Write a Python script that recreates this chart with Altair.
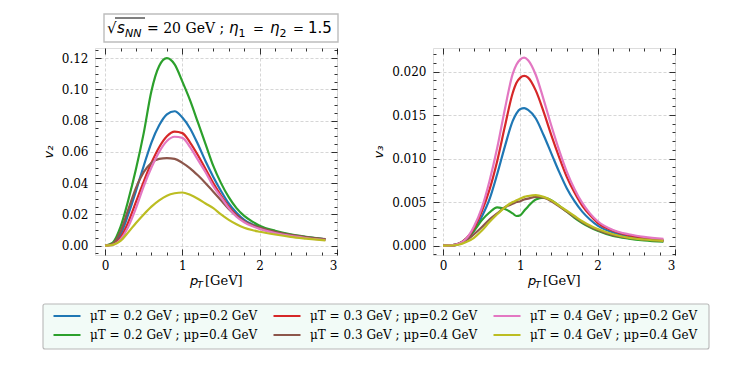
import altair as alt
import pandas as pd

# ---------------- data ----------------
PT_LEFT = [0.0, 0.1, 0.2, 0.3, 0.4, 0.5, 0.6, 0.7, 0.8, 0.9, 1.0, 1.1, 1.2, 1.3, 1.4,
           1.5, 1.6, 1.7, 1.8, 1.9, 2.0, 2.2, 2.4, 2.6, 2.85]

V2_T02_P02 = [0, .001, .007, .020, .035, .051, .066, .077, .084, .086, .082, .075, .065, .054, .044,
              .035, .027, .021, .0165, .0137, .0117, .0088, .0068, .0054, .0041]
V2_T02_P04 = [0, .002, .012, .029, .049, .072, .099, .115, .120, .116, .105, .093, .079, .065, .051,
              .040, .031, .024, .019, .0155, .0128, .0095, .0072, .0056, .0040]
V2_T03_P02 = [0, .0008, .005, .015, .028, .041, .053, .063, .070, .073, .072, .066, .058, .049, .040,
              .032, .025, .0195, .0155, .013, .0112, .0085, .0065, .0052, .0039]
V2_T03_P04 = [0, .0012, .009, .023, .037, .047, .053, .0555, .056, .0555, .053, .0495, .045, .040, .0345,
              .029, .0235, .019, .0155, .0133, .0115, .0088, .0069, .0055, .0042]
V2_T04_P02 = [0, .0005, .004, .012, .024, .038, .050, .060, .067, .0697, .069, .063, .055, .047, .038,
              .031, .024, .0185, .015, .0125, .0107, .0081, .0062, .0049, .0036]
V2_T04_P04 = [0, .0005, .003, .0085, .0145, .020, .025, .029, .032, .0335, .034, .0325, .030, .027, .024,
              .020, .0165, .0137, .0115, .010, .0089, .0071, .0056, .0045, .0033]

PT_RIGHT = [0.0, 0.1, 0.2, 0.3, 0.4, 0.5, 0.6, 0.7, 0.8, 0.9, 0.95, 1.0, 1.05, 1.1, 1.2, 1.3, 1.4,
            1.5, 1.6, 1.7, 1.8, 1.9, 2.0, 2.2, 2.4, 2.6, 2.85]

V3_T02_P02 = [0, .00002, .0002, .0007, .0017, .0033, .0053, .0082, .0114, .0143, .0152, .0157, .0158, .0156,
              .0146, .0127, .0106, .0085, .0066, .0051, .0039, .0030, .0023, .0015, .0011, .0008, .00058]
V3_T02_P04 = [0, .00002, .0002, .0008, .0017, .0029, .0038, .0044, .0042, .0037, .0034, .0035, .0040, .0045,
              .0053, .0055, .0052, .0046, .0039, .0032, .0026, .0021, .0017, .0011, .0008, .0006, .00045]
V3_T03_P02 = [0, .00002, .0002, .0008, .0020, .0039, .0064, .0097, .0137, .0175, .0187, .0193, .0195, .0193,
              .0178, .0154, .0127, .0102, .0079, .0061, .0046, .0035, .0026, .0017, .0012, .0009, .00066]
V3_T03_P04 = [0, .00002, .0002, .0006, .0013, .0021, .0030, .0037, .0044, .0048, .0050, .0051, .0053, .0054,
              .0056, .0055, .0051, .0045, .0039, .0033, .0027, .0022, .0018, .0012, .0009, .0007, .00052]
V3_T04_P02 = [0, .00002, .0002, .0008, .0022, .0043, .0074, .0112, .0157, .0197, .0208, .0214, .0216, .0213,
              .0196, .0168, .0138, .0110, .0085, .0065, .0049, .0037, .0028, .0018, .0013, .0010, .00077]
V3_T04_P04 = [0, .00001, .0001, .0004, .0009, .0017, .0027, .0036, .0044, .0050, .0052, .0054, .0056, .0057,
              .0058, .0056, .0052, .0046, .0040, .0034, .0028, .0023, .0019, .0013, .0009, .0007, .00055]

# plot order (also legend order: Vega fills legend columns first)
SERIES = ["μT = 0.2 GeV ; μp=0.2 GeV", "μT = 0.2 GeV ; μp=0.4 GeV",
          "μT = 0.3 GeV ; μp=0.2 GeV", "μT = 0.3 GeV ; μp=0.4 GeV",
          "μT = 0.4 GeV ; μp=0.2 GeV", "μT = 0.4 GeV ; μp=0.4 GeV"]
COLORS = ["#1f77b4", "#2ca02c", "#d62728", "#8c564b", "#e377c2", "#bcbd22"]

V2_ALL = [V2_T02_P02, V2_T02_P04, V2_T03_P02, V2_T03_P04, V2_T04_P02, V2_T04_P04]
V3_ALL = [V3_T02_P02, V3_T02_P04, V3_T03_P02, V3_T03_P04, V3_T04_P02, V3_T04_P04]

X_TICKS = [0, 1, 2, 3]
V2_TICKS = [0.0, 0.02, 0.04, 0.06, 0.08, 0.10, 0.12]
V3_TICKS = [0.0, 0.005, 0.010, 0.015, 0.020]


def long_df(pts, allv):
    rows = []
    for s, vals in zip(SERIES, allv):
        for p, v in zip(pts, vals):
            rows.append({"pt": p, "v": v, "series": s})
    return pd.DataFrame(rows)


df_left = long_df(PT_LEFT, V2_ALL)
df_right = long_df(PT_RIGHT, V3_ALL)
ONE = pd.DataFrame({"k": [0]})

W, H = 242, 207
XDOM = [-0.13, 3.0]
X_MINOR = [round(i * 0.2, 1) for i in range(1, 15) if i % 5 != 0]
V2_MINOR = [round(-0.005 + i * 0.005, 3) for i in range(27) if round(-0.005 + i * 0.005, 3) not in V2_TICKS]
V3_MINOR = [round(-0.001 + i * 0.001, 3) for i in range(24) if round(-0.001 + i * 0.001, 3) not in V3_TICKS]

SERIF = "DejaVu Serif"
SANS = "DejaVu Sans"

legend = alt.Legend(
    title=None, orient="none", legendX=-43, legendY=262, columns=3,
    symbolType="stroke", symbolSize=729, symbolStrokeWidth=2.2, clipHeight=12,
    labelFont=SERIF, labelFontSize=12, labelColor="black", labelLimit=400,
    labelOffset=8, columnPadding=14, rowPadding=7, padding=0,
)


def txt(s, x, y, size, font=SANS, style="normal"):
    return alt.Chart(ONE).mark_text(
        text=s, font=font, fontSize=size, fontStyle=style, align="left",
        baseline="alphabetic", color="black"
    ).encode(x=alt.value(x), y=alt.value(y))


def panel(df, ydom, ymaj, ymin, ytitle, yfmt, extra):
    xs = alt.Scale(domain=XDOM, nice=False, zero=False)
    ys = alt.Scale(domain=ydom, nice=False, zero=False)
    lines = alt.Chart(df).mark_line(strokeWidth=2.2, interpolate="monotone").encode(
        x=alt.X("pt:Q", scale=xs, axis=alt.Axis(
            orient="bottom", values=X_TICKS, format="d", ticks=False, tickSize=0,
            domain=False, grid=True, gridColor="#c4c4c4", gridDash=[3, 2], gridWidth=0.7,
            labelFont=SERIF, labelFontSize=12, labelColor="black", labelPadding=5, title=None)),
        y=alt.Y("v:Q", scale=ys, axis=alt.Axis(
            orient="left", values=ymaj, format=yfmt, ticks=False, tickSize=0,
            domain=False, grid=True, gridColor="#c4c4c4", gridDash=[3, 2], gridWidth=0.7,
            labelFont=SERIF, labelFontSize=12, labelColor="black", labelPadding=7,
            title=ytitle, titleFont=SANS, titleFontSize=13, titleFontStyle="italic",
            titleFontWeight="normal", titleColor="black", titlePadding=6)),
        color=alt.Color("series:N", scale=alt.Scale(domain=SERIES, range=COLORS), legend=legend),
    )

    def ticks(xo, yo, xv, yv, size):
        return alt.Chart(df).mark_point(opacity=0).encode(
            x=alt.X("pt:Q", scale=xs, axis=alt.Axis(
                orient=xo, values=xv, tickSize=size, offset=-size, labels=False, grid=False,
                domain=False, title=None, tickColor="black", tickWidth=0.8)),
            y=alt.Y("v:Q", scale=ys, axis=alt.Axis(
                orient=yo, values=yv, tickSize=size, offset=-size, labels=False, grid=False,
                domain=False, title=None, tickColor="black", tickWidth=0.8)),
        )

    layers = extra + [lines,
                      ticks("bottom", "left", X_TICKS, ymaj, 6),
                      ticks("bottom", "left", X_MINOR, ymin, 3),
                      ticks("top", "right", X_TICKS, ymaj, 6),
                      ticks("top", "right", X_MINOR, ymin, 3),
                      # x-axis title  p_T [GeV]
                      txt("p", 95, 237, 13, SANS, "italic"),
                      txt("T", 102, 240, 9.5, SANS, "italic"),
                      txt("[GeV]", 110, 237, 13, SERIF)]
    return alt.layer(*layers).resolve_axis(x="independent", y="independent").properties(width=W, height=H)


left_extra = [
    # legend frame (entries come from the colour legend)
    alt.Chart(ONE).mark_rect(fill="#f2fbf7", stroke="#b8b8b8", strokeWidth=1.1, cornerRadius=2).encode(
        x=alt.value(-52), x2=alt.value(614), y=alt.value(256), y2=alt.value(301)),
    # title box
    alt.Chart(ONE).mark_rect(fill="white", stroke="#bdbdbd", strokeWidth=1.4).encode(
        x=alt.value(9), x2=alt.value(243), y=alt.value(-34), y2=alt.value(-6)),
    txt("√", 12, -15, 15, SANS),
    alt.Chart(ONE).mark_rule(color="black", strokeWidth=1).encode(
        x=alt.value(20), x2=alt.value(50), y=alt.value(-30)),
    txt("s", 22, -15, 15, SANS, "italic"),
    txt("NN", 30, -11, 11, SANS, "italic"),
    txt("= 20 GeV ;", 52, -15, 14, SERIF),
    txt("η", 134, -15, 15, SANS, "italic"),
    txt("1", 143.5, -11, 11, SANS),
    txt("=", 158, -15, 13, SANS),
    txt("η", 175, -15, 15, SANS, "italic"),
    txt("2", 184.5, -11, 11, SANS),
    txt("=", 198, -15, 13, SANS),
    txt("1.5", 213, -15, 15, SANS),
]

left = panel(df_left, [-0.006, 0.1265], V2_TICKS, V2_MINOR, "v₂", ".2f", left_extra)
right = panel(df_right, [-0.00108, 0.0227], V3_TICKS, V3_MINOR, "v₃", ".3f", [])

chart = alt.hconcat(left, right, spacing=96, bounds="flush").properties(
    padding={"left": 33, "top": 4, "right": 5, "bottom": 5}
).configure_view(stroke="#1a1a1a", strokeWidth=1.2).configure(background="white")

chart.save("out.html", embed_options={"renderer": "svg", "actions": False})
